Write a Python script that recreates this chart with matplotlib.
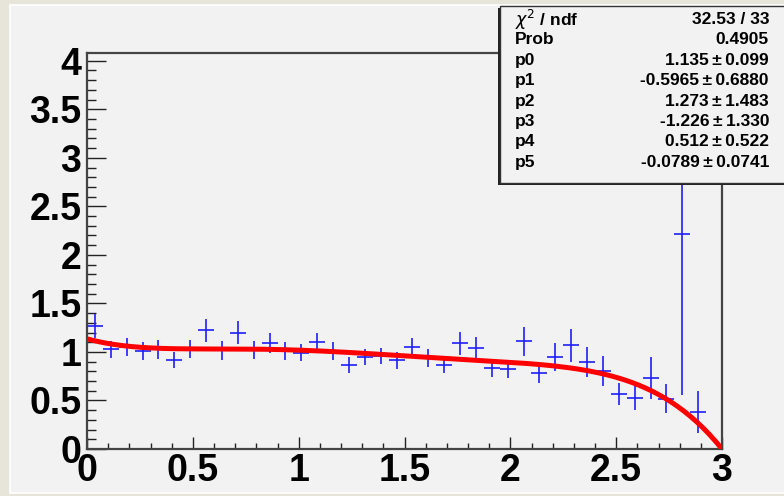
import numpy as np
import matplotlib.pyplot as plt
from matplotlib.patches import Rectangle
from matplotlib.ticker import MultipleLocator

# histogram: 39 filled bins of width 0.075 starting at 0
bin_width = 0.075
values = [1.266, 1.027, 1.054, 1.009, 1.027, 0.917, 1.034, 1.222, 1.016, 1.198,
          1.020, 1.088, 1.009, 0.993, 1.100, 1.010, 0.866, 0.948, 0.958, 0.914,
          1.050, 0.940, 0.862, 1.088, 1.044, 0.832, 0.828, 1.112, 0.787, 0.948,
          1.071, 0.896, 0.800, 0.565, 0.527, 0.729, 0.520, 2.220, 0.383]
errors = [0.120, 0.086, 0.094, 0.091, 0.096, 0.082, 0.094, 0.120, 0.094, 0.120,
          0.091, 0.103, 0.094, 0.089, 0.094, 0.096, 0.082, 0.086, 0.082, 0.086,
          0.094, 0.091, 0.082, 0.120, 0.115, 0.089, 0.094, 0.149, 0.110, 0.142,
          0.170, 0.154, 0.156, 0.115, 0.123, 0.214, 0.154, 1.660, 0.214]
centers = (np.arange(len(values)) + 0.5) * bin_width

# fit result (pol5) as printed in the stats box
params = [1.135, -0.5965, 1.273, -1.226, 0.512, -0.0789]
param_errs = ["0.099", "0.6880", "1.483", "1.330", "0.522", "0.0741"]
param_txt = ["1.135", "-0.5965", "1.273", "-1.226", "0.512", "-0.0789"]
chi2_txt = "32.53 / 33"
prob_txt = "0.4905"

W, H = 784, 496
fig = plt.figure(figsize=(W / 100, H / 100), dpi=100)
fig.patch.set_facecolor('#e7e4da')
fig.patches.append(Rectangle((10 / W, 3 / H), 1, 1 - 8 / H, transform=fig.transFigure,
                             facecolor='#f2f2f2', edgecolor='white', lw=1.2, zorder=-5))

ax = fig.add_axes([87 / W, 1 - 449 / H, (722 - 87) / W, (449 - 53) / H])
ax.set_facecolor('#f2f2f2')

ax.errorbar(centers, values, yerr=errors, xerr=bin_width / 2, fmt='none',
            ecolor='#1f1fff', elinewidth=1.2, capsize=0, zorder=3)

xs = np.linspace(0, 3, 200)
ax.plot(xs, np.polyval(params[::-1], xs), color='#ff0000', lw=3.6, zorder=4,
        solid_capstyle='butt')

ax.set_xlim(0, 3)
ax.set_ylim(0, 4.08)
ax.xaxis.set_major_locator(MultipleLocator(0.5))
ax.xaxis.set_minor_locator(MultipleLocator(0.1))
ax.yaxis.set_major_locator(MultipleLocator(0.5))
ax.yaxis.set_minor_locator(MultipleLocator(0.1))
ax.xaxis.set_major_formatter(plt.FuncFormatter(lambda v, p: f"{v:g}"))
ax.yaxis.set_major_formatter(plt.FuncFormatter(lambda v, p: f"{v:g}"))

ax.tick_params(axis='x', which='major', direction='in', length=8.6, width=1, pad=3,
               top=False, labelsize=27, color='#222222')
ax.tick_params(axis='x', which='minor', direction='in', length=4.3, width=1, top=False,
               color='#222222')
ax.tick_params(axis='y', which='major', direction='in', length=13.4, width=1, pad=4,
               right=False, labelsize=27, color='#222222')
ax.tick_params(axis='y', which='minor', direction='in', length=6.7, width=1, right=False,
               color='#222222')
for lab in ax.get_xticklabels() + ax.get_yticklabels():
    lab.set_fontfamily('Liberation Sans')
    lab.set_fontweight('bold')
for s in ax.spines.values():
    s.set_linewidth(1.6)
    s.set_color('#444444')

# stats box with shadow
bx0, by0, bx1, by1 = 500, 6, 790, 183
fig.patches.append(Rectangle(((bx0 - 2) / W, 1 - (by1 + 2) / H), (bx1 - bx0) / W,
                             (by1 - by0) / H, transform=fig.transFigure,
                             facecolor='#222222', edgecolor='none', zorder=5))
fig.patches.append(Rectangle((bx0 / W, 1 - by1 / H), (bx1 - bx0) / W, (by1 - by0) / H,
                             transform=fig.transFigure, facecolor='#f2f2f2',
                             edgecolor='#333333', lw=1, zorder=6))

names = [r"$\chi^{2}$ / ndf", "Prob"] + [f"p{i}" for i in range(len(params))]
vals = [chi2_txt, prob_txt] + [f"{v}\u2009\u00b1\u2009{e}" for v, e in zip(param_txt, param_errs)]
row0, dy = 19.5, 20.4
for i, (n, v) in enumerate(zip(names, vals)):
    yy = 1 - (row0 + i * dy) / H
    fig.text(515 / W, yy, n, ha='left', va='center', fontsize=12.5, fontweight='bold',
             family='Liberation Sans', zorder=7)
    fig.text(769 / W, yy, v, ha='right', va='center', fontsize=12.5, fontweight='bold',
             family='Liberation Sans', zorder=7)

fig.savefig('out.png', dpi=100, facecolor=fig.get_facecolor())
